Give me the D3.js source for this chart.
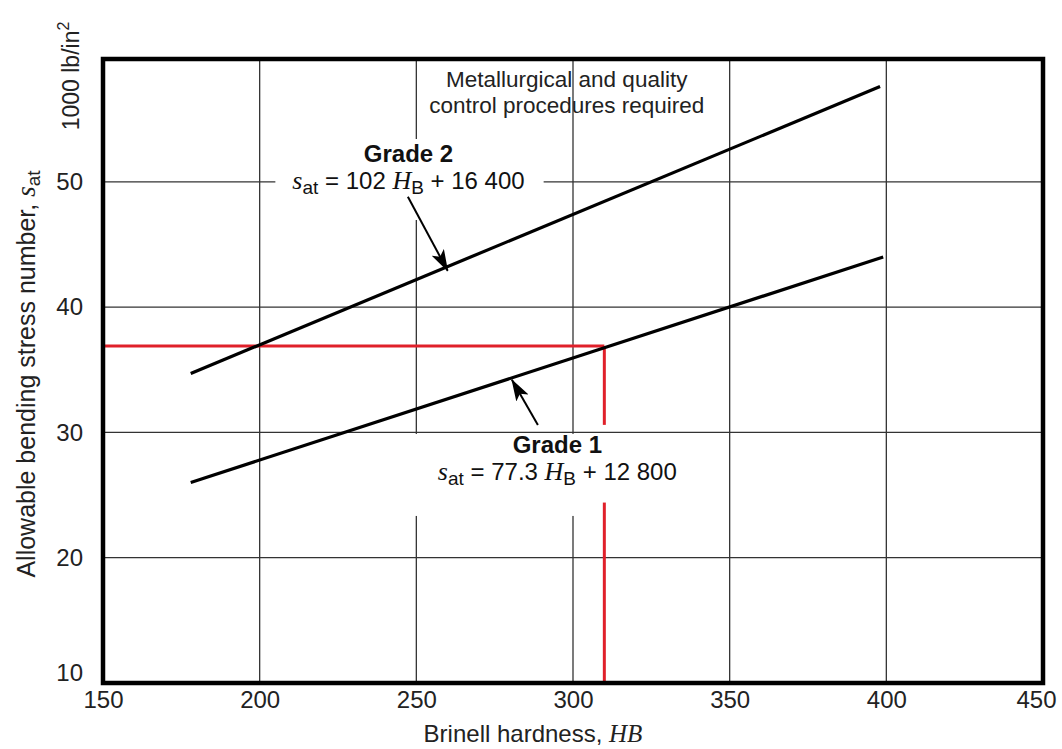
<!DOCTYPE html>
<html>
<head>
<meta charset="utf-8">
<script src="https://cdn.jsdelivr.net/npm/d3@7"></script>
<style>
  body { margin: 0; background: #fff; }
  svg { font-family: "Liberation Sans", Arial, sans-serif; }
  .tick text { fill: #222; }
</style>
</head>
<body>
<svg id="chart" width="1062" height="749"></svg>
<script>
// axes
const xTicks = [150, 200, 250, 300, 350, 400, 450];
const yTicks = [10, 20, 30, 40, 50];
const xGrid = [200, 250, 300, 350, 400];
const yGrid = [20, 30, 40, 50];

// the two grade lines (HB, sat in 1000 psi)
const grade1 = [[178, 26.0], [399, 44.0]];
const grade2 = [[178, 34.7], [398, 57.6]];

// red example lookup: HB = 310 -> sat = 36.9
const redPoint = [310, 36.9];
const redGap = [24.4, 30.6];

// arrows [tail, tip]
const arrow2 = [[247.3, 48.8], [260, 42.9]];
const arrow1 = [[288.8, 30.6], [280.5, 34.2]];

const svg = d3.select("#chart");
const x = d3.scaleLinear().domain([150, 450]).range([103, 1043]);
const y = d3.scaleLinear().domain([10, 59.8]).range([683, 59]);

svg.append("defs").append("marker")
  .attr("id", "arr").attr("viewBox", "0 0 22 14")
  .attr("refX", 21).attr("refY", 7)
  .attr("markerWidth", 22).attr("markerHeight", 14)
  .attr("markerUnits", "userSpaceOnUse").attr("orient", "auto")
  .append("path").attr("d", "M0,0 L22,7 L0,14 L5,7 Z").attr("fill", "#000");

// grid
const grid = svg.append("g");
grid.selectAll(".vg").data(xGrid).join("line").attr("class", "vg")
  .attr("x1", d => x(d)).attr("x2", d => x(d))
  .attr("y1", y(59.8)).attr("y2", y(10))
  .attr("stroke", "#333").attr("stroke-width", 1.3);
grid.selectAll(".hg").data(yGrid).join("line").attr("class", "hg")
  .attr("x1", x(150)).attr("x2", x(450))
  .attr("y1", d => y(d)).attr("y2", d => y(d))
  .attr("stroke", "#333").attr("stroke-width", 1.3);

// note at top
const note = svg.append("text").attr("x", x(298)).attr("y", y(57.6))
  .attr("text-anchor", "middle").attr("font-size", 22.5).attr("fill", "#222");
note.append("tspan").attr("x", x(298)).text("Metallurgical and quality");
note.append("tspan").attr("x", x(298)).attr("dy", 26).text("control procedures required");

// grade labels with equation
function gradeLabel(cx, sat, title, coef, cst, pad) {
  const g = svg.append("g");
  const bg = g.append("rect").attr("fill", "#fff");
  g.append("text").attr("x", x(cx)).attr("y", y(sat))
    .attr("text-anchor", "middle").attr("font-size", 24).attr("font-weight", "bold")
    .attr("fill", "#111").text(title);
  const eq = g.append("text").attr("x", x(cx)).attr("y", y(sat) + 27)
    .attr("text-anchor", "middle").attr("font-size", 24).attr("fill", "#111");
  eq.append("tspan").attr("font-family", "Liberation Serif").attr("font-style", "italic").attr("font-size", 26).text("s");
  eq.append("tspan").attr("font-size", 19).attr("dy", 5).text("at");
  eq.append("tspan").attr("dy", -5).text(" = " + coef + " ");
  eq.append("tspan").attr("font-family", "Liberation Serif").attr("font-style", "italic").attr("font-size", 26).text("H");
  eq.append("tspan").attr("font-size", 19).attr("dy", 5).text("B");
  eq.append("tspan").attr("dy", -5).text(" + " + cst);
  const b = g.node().getBBox();
  bg.attr("x", b.x - pad[3]).attr("y", b.y - pad[0])
    .attr("width", b.width + pad[1] + pad[3]).attr("height", b.height + pad[0] + pad[2]);
  return g;
}
gradeLabel(247.5, 51.58, "Grade 2", "102", "16 400", [1, 19, 22, 17]);
gradeLabel(295, 28.36, "Grade 1", "77.3", "12 800", [-3, 20, 27, 26]);

// red lookup lines
const red = svg.append("g").attr("stroke", "#e0202a").attr("stroke-width", 3).attr("fill", "none");
red.append("line").attr("x1", x(150)).attr("x2", x(redPoint[0]))
  .attr("y1", y(redPoint[1])).attr("y2", y(redPoint[1]));
red.append("line").attr("x1", x(redPoint[0])).attr("x2", x(redPoint[0]))
  .attr("y1", y(redPoint[1])).attr("y2", y(redGap[1]));
red.append("line").attr("x1", x(redPoint[0])).attr("x2", x(redPoint[0]))
  .attr("y1", y(redGap[0])).attr("y2", y(10));

// grade lines
const line = d3.line().x(d => x(d[0])).y(d => y(d[1]));
svg.selectAll(".grade").data([grade1, grade2]).join("path").attr("class", "grade")
  .attr("d", line).attr("fill", "none").attr("stroke", "#000").attr("stroke-width", 3.2);

// arrows
svg.selectAll(".arr").data([arrow1, arrow2]).join("line").attr("class", "arr")
  .attr("x1", d => x(d[0][0])).attr("y1", d => y(d[0][1]))
  .attr("x2", d => x(d[1][0])).attr("y2", d => y(d[1][1]))
  .attr("stroke", "#000").attr("stroke-width", 2).attr("marker-end", "url(#arr)");

// frame
svg.append("rect").attr("x", x(150)).attr("y", y(59.8))
  .attr("width", x(450) - x(150)).attr("height", y(10) - y(59.8))
  .attr("fill", "none").attr("stroke", "#000").attr("stroke-width", 4.5);

// axes labels
const xAxis = svg.append("g").attr("transform", `translate(0,${y(10)})`)
  .call(d3.axisBottom(x).tickValues(xTicks).tickSize(0).tickPadding(8).tickFormat(d3.format("d")));
xAxis.select(".domain").remove();
xAxis.selectAll("text").attr("font-size", 24).attr("font-family", "Liberation Sans, Arial, sans-serif")
  .attr("dx", d => d === 450 ? -7 : 0);

const yAxis = svg.append("g").attr("transform", `translate(${x(150)},0)`)
  .call(d3.axisLeft(y).tickValues(yTicks).tickSize(0).tickPadding(20).tickFormat(d3.format("d")));
yAxis.select(".domain").remove();
yAxis.selectAll("text").attr("font-size", 24).attr("font-family", "Liberation Sans, Arial, sans-serif")
  .attr("dy", d => d === 10 ? "-0.1em" : "0.32em");

const xl = svg.append("text").attr("x", 533).attr("y", 742).attr("text-anchor", "middle")
  .attr("font-size", 24).attr("fill", "#222");
xl.append("tspan").text("Brinell hardness, ");
xl.append("tspan").attr("font-family", "Liberation Serif").attr("font-style", "italic").attr("font-size", 25).text("HB");

const yl = svg.append("text").attr("transform", "translate(35,374) rotate(-90)")
  .attr("text-anchor", "middle").attr("font-size", 25).attr("fill", "#222");
yl.append("tspan").text("Allowable bending stress number, ");
yl.append("tspan").attr("font-family", "Liberation Serif").attr("font-style", "italic").attr("font-size", 27).text("s");
yl.append("tspan").attr("font-size", 19).attr("dy", 5).text("at");

const ul = svg.append("text").attr("transform", "translate(79,76) rotate(-90)")
  .attr("text-anchor", "middle").attr("font-size", 23).attr("fill", "#222");
ul.append("tspan").text("1000 lb/in");
ul.append("tspan").attr("font-size", 16).attr("dy", -10).text("2");
</script>
</body>
</html>
